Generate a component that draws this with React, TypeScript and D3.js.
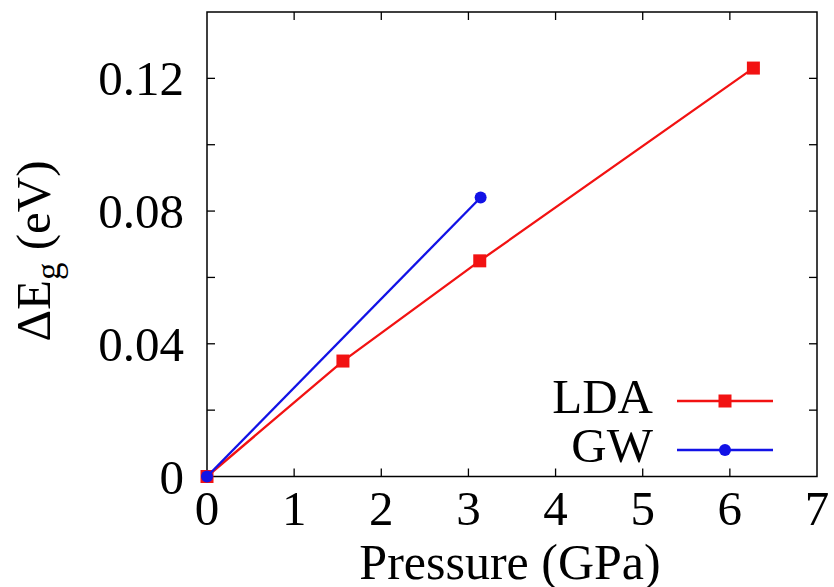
import React from "react";
import * as d3 from "d3";

const ldaPressure = [0, 1.56, 3.13, 6.27];
const ldaGap = [0, 0.0348, 0.065, 0.1231];
const gwPressure = [0, 3.14];
const gwGap = [0, 0.0841];
const xTicks = [0, 1, 2, 3, 4, 5, 6, 7];
const yTicks = [0, 0.04, 0.08, 0.12];
const yMinorTicks = [0.02, 0.06, 0.1];
const legendLabels = ["LDA", "GW"];

const W = 834, H = 587;
const L = 207, R = 817, T = 12, B = 476.5;
const FONT = "'Liberation Serif', 'DejaVu Serif', serif";

export default function App() {
  const x = d3.scaleLinear().domain([0, 7]).range([L, R]);
  const y = d3.scaleLinear().domain([0, 0.14]).range([B, T]);
  const line = d3.line<[number, number]>().x(d => x(d[0])).y(d => y(d[1]));
  const lda: [number, number][] = ldaPressure.map((p, i) => [p, ldaGap[i]]);
  const gw: [number, number][] = gwPressure.map((p, i) => [p, gwGap[i]]);
  const tl = 8;
  const red = "#f21212";
  const blue = "#1212e6";
  const sq = 13;
  return (
    <svg width={W} height={H} style={{ position: "fixed", left: 0, top: 0, background: "#fff" }}>
      <rect x={0} y={0} width={W} height={H} fill="#fff" />
      {xTicks.slice(1, -1).map(t => (
        <g key={"xt" + t}>
          <line x1={x(t)} x2={x(t)} y1={B} y2={B - tl} stroke="#000" strokeWidth={1.3} />
          <line x1={x(t)} x2={x(t)} y1={T} y2={T + tl} stroke="#000" strokeWidth={1.3} />
        </g>
      ))}
      {[...yTicks, ...yMinorTicks].filter(t => t > 0).map(t => (
        <g key={"yt" + t}>
          <line x1={L} x2={L + tl} y1={y(t)} y2={y(t)} stroke="#000" strokeWidth={1.3} />
          <line x1={R} x2={R - tl} y1={y(t)} y2={y(t)} stroke="#000" strokeWidth={1.3} />
        </g>
      ))}
      <rect x={L} y={T} width={R - L} height={B - T} fill="none" stroke="#000" strokeWidth={1.5} />
      {xTicks.map(t => (
        <text key={"xl" + t} x={x(t)} y={525} textAnchor="middle" fontFamily={FONT} fontSize={49} fill="#000">{t}</text>
      ))}
      {yTicks.map(t => (
        <text key={"yl" + t} x={184} y={y(t) + 17} textAnchor="end" fontFamily={FONT} fontSize={49} fill="#000">
          {t === 0 ? "0" : t.toFixed(2)}
        </text>
      ))}
      <text x={510} y={579} textAnchor="middle" fontFamily={FONT} fontSize={50} fill="#000">Pressure (GPa)</text>
      <text transform="translate(50,251) rotate(-90)" textAnchor="middle" fontFamily={FONT} fontSize={49} fill="#000">
        ΔE<tspan fontSize={35} dy={10}>g</tspan><tspan dy={-10}> (eV)</tspan>
      </text>
      <path d={line(lda) || ""} fill="none" stroke={red} strokeWidth={2.3} />
      {lda.map((d, i) => (
        <rect key={"lm" + i} x={x(d[0]) - sq / 2} y={y(d[1]) - sq / 2} width={sq} height={sq} fill={red} />
      ))}
      <path d={line(gw) || ""} fill="none" stroke={blue} strokeWidth={2.3} />
      {gw.map((d, i) => (
        <circle key={"gm" + i} cx={x(d[0])} cy={y(d[1])} r={6} fill={blue} />
      ))}
      <text x={653} y={413} textAnchor="end" fontFamily={FONT} fontSize={49} fill="#000">{legendLabels[0]}</text>
      <line x1={677} x2={773} y1={401} y2={401} stroke={red} strokeWidth={2.3} />
      <rect x={725 - sq / 2} y={401 - sq / 2} width={sq} height={sq} fill={red} />
      <text x={653} y={462} textAnchor="end" fontFamily={FONT} fontSize={49} fill="#000">{legendLabels[1]}</text>
      <line x1={677} x2={773} y1={450} y2={450} stroke={blue} strokeWidth={2.3} />
      <circle cx={725} cy={450} r={6} fill={blue} />
    </svg>
  );
}
